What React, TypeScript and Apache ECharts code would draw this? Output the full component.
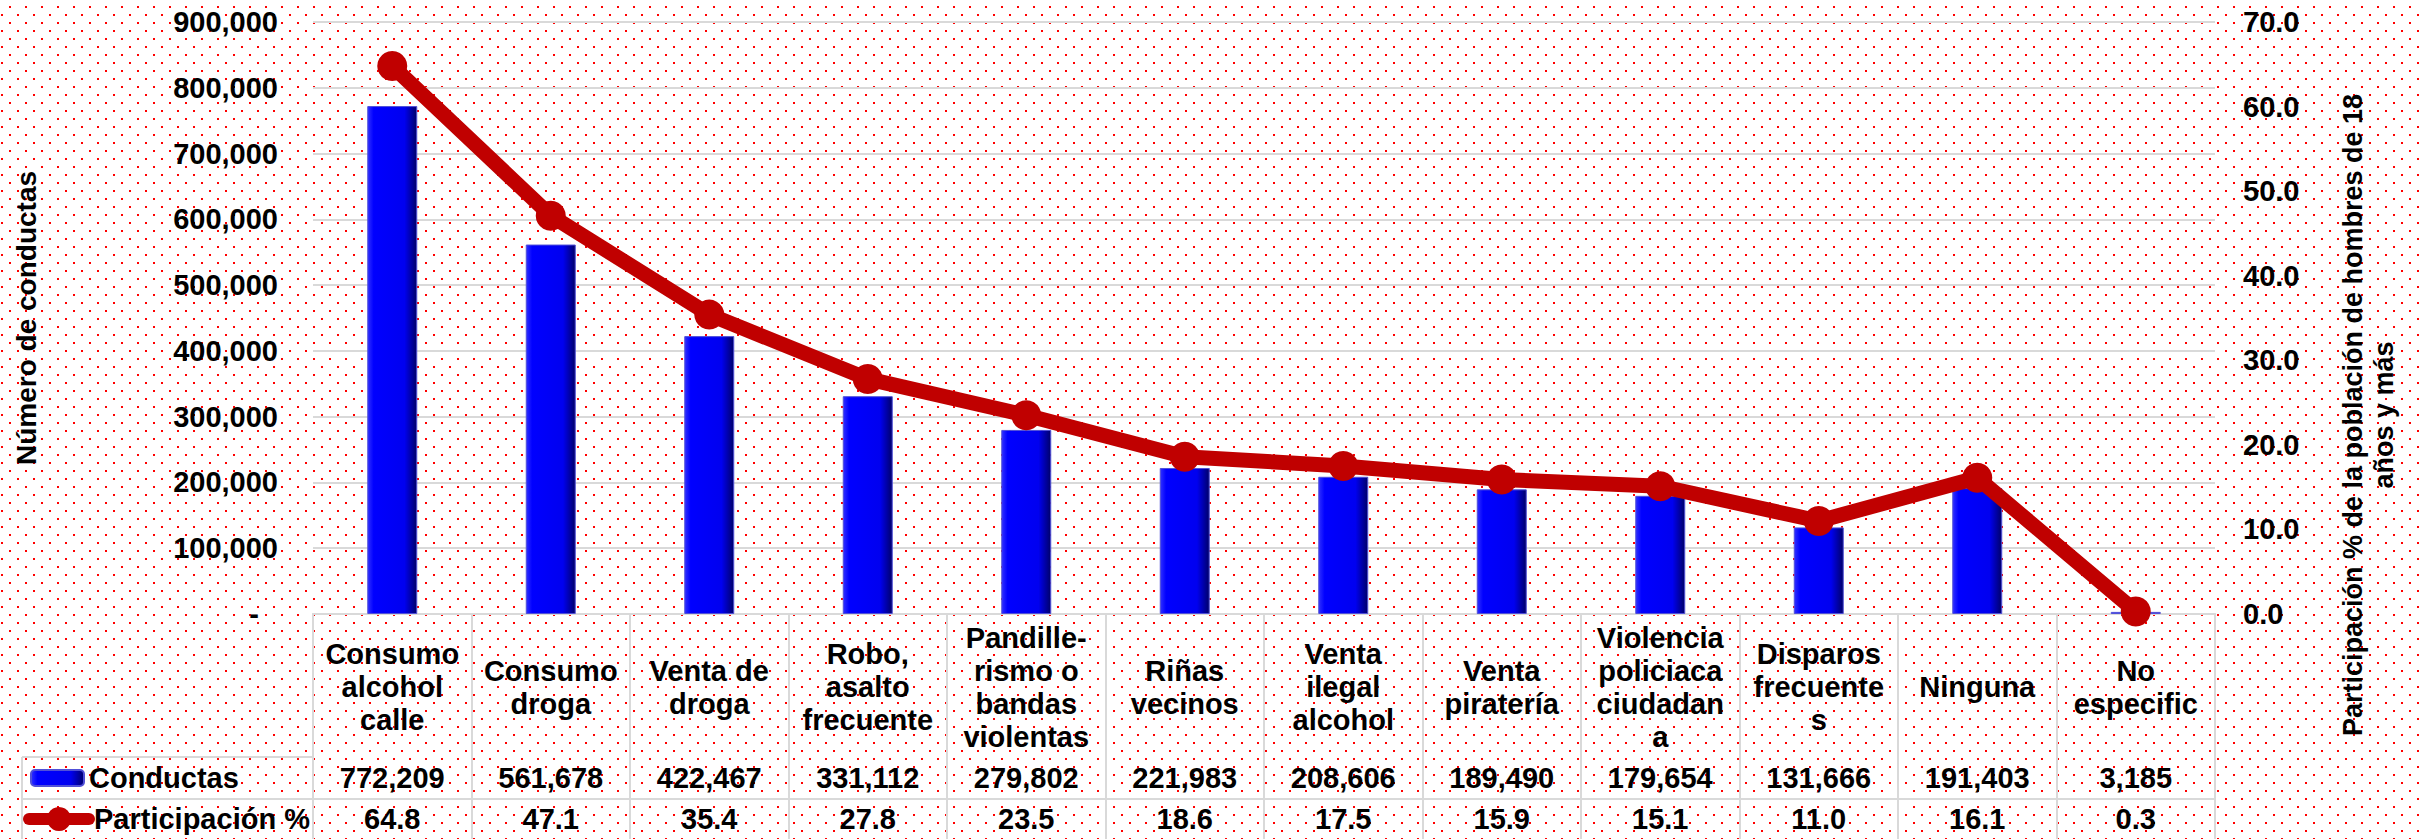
import React, { useEffect, useRef } from 'react';
import * as echarts from 'echarts';

const categories = [
  'Consumo\nalcohol\ncalle',
  'Consumo\ndroga',
  'Venta de\ndroga',
  'Robo,\nasalto\nfrecuente',
  'Pandille-\nrismo o\nbandas\nviolentas',
  'Riñas\nvecinos',
  'Venta\nilegal\nalcohol',
  'Venta\npiratería',
  'Violencia\npoliciaca\nciudadan\na',
  'Disparos\nfrecuente\ns',
  'Ninguna',
  'No\nespecific',
];
const conductas = [772209, 561678, 422467, 331112, 279802, 221983, 208606, 189490, 179654, 131666, 191403, 3185];
const participacion = [64.8, 47.1, 35.4, 27.8, 23.5, 18.6, 17.5, 15.9, 15.1, 11.0, 16.1, 0.3];
const seriesNames = ['Conductas', 'Participación %'];
const leftAxisTitle = 'Número de conductas';
const rightAxisTitle = 'Participación % de la población de hombres de 18\naños y más';
const leftAxisRange = { min: 0, max: 900000, interval: 100000 };
const rightAxisRange = { min: 0, max: 70, interval: 10 };

const FONT = '"Liberation Sans", Arial, Helvetica, sans-serif';
const fmtInt = (v: number) => v.toLocaleString('en-US');

const DOTS =
  "url(\"data:image/svg+xml;utf8,<svg xmlns='http://www.w3.org/2000/svg' width='16' height='16'><rect x='9' y='6' width='2' height='2' fill='%23ff0000'/><rect x='1' y='14' width='2' height='2' fill='%23ff0000'/></svg>\")";

export default function App() {
  const ref = useRef<HTMLDivElement>(null);
  useEffect(() => {
    document.body.style.margin = '0';
    const chart = echarts.init(ref.current!, null, { renderer: 'svg' });
    const gray = '#d9d9d9';
    const text = { fontFamily: FONT, fontWeight: 'bold' as const, fontSize: 29, color: '#000' };
    const barColor = new echarts.graphic.LinearGradient(0, 0, 1, 0, [
      { offset: 0, color: '#3030ff' },
      { offset: 0.12, color: '#0000ff' },
      { offset: 0.75, color: '#0000f0' },
      { offset: 1, color: '#00006a' },
    ]);
    const option: any = {
      animation: false,
      grid: { left: 313, top: 22, width: 1902, height: 592 },
      legend: [
        {
          data: [seriesNames[0]],
          left: 30,
          top: 763,
          padding: 0,
          itemWidth: 53,
          itemHeight: 16,
          selectedMode: false,
          textStyle: { ...text, lineHeight: 30 },
        },
        {
          data: [seriesNames[1]],
          left: 23,
          top: 804,
          padding: 0,
          itemWidth: 60,
          itemHeight: 30,
          selectedMode: false,
          lineStyle: { width: 12 },
          textStyle: { ...text, lineHeight: 30 },
        },
      ],
      xAxis: [
        {
          type: 'category',
          data: categories,
          position: 'bottom',
          axisLine: { show: true, lineStyle: { color: gray, width: 2 } },
          axisTick: { show: true, length: 225, lineStyle: { color: gray, width: 2 } },
          axisLabel: { ...text, interval: 0, margin: 73, lineHeight: 33, verticalAlign: 'middle' },
          splitLine: { show: false },
        },
        {
          type: 'category',
          data: categories,
          position: 'bottom',
          offset: 143,
          axisLine: { show: true, lineStyle: { color: gray, width: 2 } },
          axisTick: { show: false },
          axisLabel: {
            ...text,
            interval: 0,
            margin: 21,
            verticalAlign: 'middle',
            formatter: (_v: string, i: number) => fmtInt(conductas[i]),
          },
        },
        {
          type: 'category',
          data: categories,
          position: 'bottom',
          offset: 185,
          axisLine: { show: true, lineStyle: { color: gray, width: 2 } },
          axisTick: { show: false },
          axisLabel: {
            ...text,
            interval: 0,
            margin: 20,
            verticalAlign: 'middle',
            formatter: (_v: string, i: number) => participacion[i].toFixed(1),
          },
        },
      ],
      yAxis: [
        {
          type: 'value',
          position: 'left',
          ...leftAxisRange,
          axisLine: { show: false },
          axisTick: { show: false },
          splitLine: { show: true, lineStyle: { color: gray, width: 2 } },
          axisLabel: {
            ...text,
            margin: 35,
            formatter: (v: number) => (v === 0 ? '{z|-}' : fmtInt(v)),
            rich: { z: { ...text, padding: [0, 19, 0, 0] } },
          },
          name: leftAxisTitle,
          nameLocation: 'middle',
          nameRotate: 90,
          nameGap: 273,
          nameTextStyle: { fontFamily: FONT, fontWeight: 'bold', fontSize: 28, color: '#000' },
        },
        {
          type: 'value',
          position: 'right',
          ...rightAxisRange,
          axisLine: { show: false },
          axisTick: { show: false },
          splitLine: { show: false },
          axisLabel: { ...text, margin: 28, formatter: (v: number) => v.toFixed(1) },
        },
      ],
      graphic: [
        {
          type: 'text',
          x: 2368,
          y: 415,
          rotation: Math.PI / 2,
          style: {
            text: rightAxisTitle,
            fontFamily: FONT,
            fontWeight: 'bold',
            fontSize: 27,
            lineHeight: 31,
            fill: '#000',
            textAlign: 'center',
            textVerticalAlign: 'middle',
          },
        },
        { type: 'line', shape: { x1: 22, y1: 757, x2: 313, y2: 757 }, style: { stroke: gray, lineWidth: 2 } },
        { type: 'line', shape: { x1: 22, y1: 799, x2: 313, y2: 799 }, style: { stroke: gray, lineWidth: 2 } },
        { type: 'line', shape: { x1: 22, y1: 757, x2: 22, y2: 839 }, style: { stroke: gray, lineWidth: 2 } },
      ],
      series: [
        {
          name: seriesNames[0],
          type: 'bar',
          data: conductas,
          barWidth: 50,
          xAxisIndex: 0,
          yAxisIndex: 0,
          itemStyle: { color: barColor, borderColor: '#5050d8', borderWidth: 1 },
        },
        {
          name: seriesNames[1],
          type: 'line',
          data: participacion,
          xAxisIndex: 0,
          yAxisIndex: 1,
          symbol: 'circle',
          symbolSize: 30,
          z: 5,
          lineStyle: { color: '#c00000', width: 15, cap: 'round', join: 'round' },
          itemStyle: { color: '#c00000' },
        },
      ],
    };
    chart.setOption(option);
    return () => chart.dispose();
  }, []);
  return (
    <div
      ref={ref}
      style={{
        width: 2420,
        height: 839,
        backgroundColor: '#ffffff',
        backgroundImage: DOTS,
        backgroundRepeat: 'repeat',
      }}
    />
  );
}
